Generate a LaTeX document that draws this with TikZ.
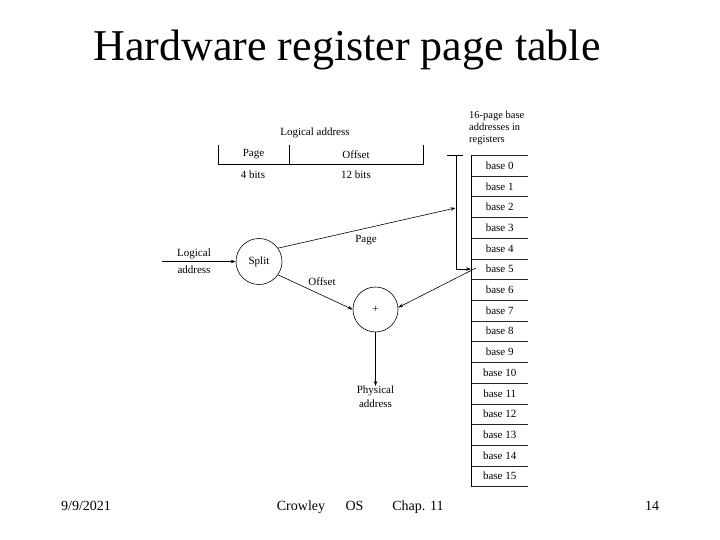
\documentclass[tikz,border=0pt]{standalone}
\usepackage{fontspec}
\setmainfont{Liberation Serif}
\usetikzlibrary{arrows.meta}
\begin{document}
\begin{tikzpicture}[x=1pt,y=-1pt,
  lbl/.style={font=\fontsize{11}{12}\selectfont, inner sep=0pt},
  two/.style={font=\fontsize{11}{17}\selectfont, inner sep=0pt, align=center},
  reg/.style={anchor=north west, minimum width=57pt, minimum height=20.7pt, inner sep=0pt, font=\fontsize{11}{12}\selectfont},
  fld/.style={minimum height=19pt, inner sep=0pt, font=\fontsize{11}{12}\selectfont},
  circ/.style={draw, circle, minimum size=46pt, inner sep=0pt, line width=0.6pt, font=\fontsize{11}{12}\selectfont},
  ln/.style={line width=0.6pt},
  arr/.style={-{Stealth[length=5pt,width=3.5pt]}, line width=0.6pt},
  foot/.style={font=\fontsize{14}{16}\selectfont, inner sep=0pt, anchor=base}]
\useasboundingbox (0,0) rectangle (720,540);

% title
\node[font=\fontsize{44}{50}\selectfont, inner sep=0pt, anchor=base] (title) at (347,61) {Hardware register page table};

% logical address format
\node[lbl] (latitle) at (315,133) {Logical address};
\node[fld, minimum width=71pt] (pg) at (253.5,154.5) {Page};
\node[fld, minimum width=134pt] (off) at (356,154.5) {Offset};
\draw[ln] (pg.north west) |- (off.south east) -- (off.north east);
\draw[ln] (pg.north east) -- (pg.south east);
\node[lbl] (pgbits) at (253,175) {4 bits};
\node[lbl] (offbits) at (356,175) {12 bits};

% register header
\node[font=\fontsize{10.5}{12}\selectfont, inner sep=0pt, align=left, anchor=north west] (reghead) at (469,111) {16-page base\\addresses in\\registers};

% registers
\foreach \i in {0,...,15} {
  \node[reg] (r\i) at (471,155+20.7*\i) {base \i};
}
\draw[ln, black!85] (r0.north west) -- (r0.north east);
\foreach \i in {0,...,15} {
  \draw[ln, black!85] (r\i.south west) -- (r\i.south east);
}
\draw[ln] (r0.north west) -- (r15.south west);

% circles
\node[circ] (split) at (259,261.5) {Split};
\node[circ, minimum size=45pt] (plus) at (375.5,309.5) {+};

% input
\coordinate (in) at (162,261.5);
\draw[arr] (in) -- (split.west);
\node[two] (inlbl) at (194,261.5) {Logical\\address};

% page selection
\coordinate (vtop) at (456,155);
\coordinate (bl) at (447,155);
\coordinate (br) at (463,155);
\coordinate (pagehit) at (455.5,208);
\draw[ln] (bl) -- (br);
\draw[arr] (vtop) |- (r5.west);
\draw[arr] (split.35) -- (pagehit);
\node[lbl] (pagelbl) at (366,240) {Page};

% offset
\draw[arr] (split.-35) -- (plus.west);
\node[lbl] (offlbl) at (322,282) {Offset};

% base to adder
\coordinate (b5) at (476,268);
\draw[arr] (b5) -- (plus.5);

% output
\node[font=\fontsize{11}{14}\selectfont, inner sep=0pt, align=center, anchor=north] (phys) at (375.5,386) {Physical\\address};
\draw[arr] (plus.south) -- (phys.north);

% footer
\node[foot] (date) at (86,510) {9/9/2021};
\node[foot] (auth) at (301,510) {Crowley};
\node[foot] (os) at (354.5,510) {OS};
\node[foot] (chap) at (418,510) {Chap. 11};
\node[foot] (num) at (652,510) {14};
\end{tikzpicture}
\end{document}
